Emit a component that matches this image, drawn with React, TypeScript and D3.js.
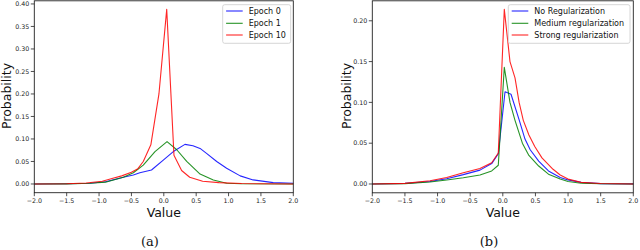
import * as d3 from "d3";
import React from "react";

// panel (a): weight distribution per epoch
const epochNames = ["Epoch 0", "Epoch 1", "Epoch 10"];
const epoch0X = [-2.0, -1.5, -1.14, -0.9, -0.625, -0.47, -0.37, -0.19, -0.008, 0.147, 0.327, 0.45, 0.56, 0.66, 0.817, 0.97, 1.18, 1.38, 1.69, 2.0];
const epoch0Y = [0.0, 0.0005, 0.0015, 0.005, 0.015, 0.02, 0.025, 0.031, 0.053, 0.072, 0.088, 0.085, 0.079, 0.068, 0.05, 0.035, 0.018, 0.009, 0.003, 0.0015];
const epoch1X = [-2.0, -1.5, -1.14, -0.9, -0.625, -0.47, -0.317, -0.136, 0.05, 0.2, 0.354, 0.56, 0.765, 0.97, 1.2, 2.0];
const epoch1Y = [0.0, 0.0003, 0.0015, 0.004, 0.015, 0.025, 0.042, 0.072, 0.094, 0.076, 0.05, 0.022, 0.009, 0.0015, 0.0005, 0.0];
const epoch10X = [-2.0, -1.5, -1.2, -0.95, -0.8, -0.65, -0.5, -0.4, -0.317, -0.2, -0.075, 0.045, 0.157, 0.275, 0.4, 0.6, 0.85, 1.2, 1.5, 2.0];
const epoch10Y = [0.0, 0.0005, 0.002, 0.006, 0.012, 0.018, 0.026, 0.034, 0.05, 0.087, 0.2, 0.388, 0.064, 0.03, 0.015, 0.006, 0.003, 0.001, 0.0005, 0.0];

// panel (b): regularization strength
const regNames = ["No Regularization", "Medium regularization", "Strong regularization"];
const noRegX = [-2.0, -1.5, -1.116, -0.86, -0.605, -0.35, -0.17, -0.069, 0.034, 0.126, 0.253, 0.34, 0.42, 0.55, 0.7, 0.88, 1.0, 1.2, 1.5, 2.0];
const noRegY = [0.0, 0.0008, 0.003, 0.0065, 0.0115, 0.017, 0.025, 0.037, 0.113, 0.11, 0.078, 0.055, 0.042, 0.028, 0.016, 0.008, 0.005, 0.002, 0.0005, 0.0001];
const medRegX = [-2.0, -1.5, -1.116, -0.86, -0.605, -0.35, -0.17, -0.069, 0.023, 0.11, 0.187, 0.3, 0.4, 0.55, 0.7, 0.88, 1.0, 1.2, 1.5, 2.0];
const medRegY = [0.0, 0.0005, 0.0025, 0.0049, 0.0077, 0.011, 0.016, 0.023, 0.143, 0.1, 0.078, 0.05, 0.035, 0.022, 0.012, 0.006, 0.003, 0.001, 0.0003, 0.0];
const strongRegX = [-2.0, -1.5, -1.116, -0.86, -0.605, -0.35, -0.17, -0.069, 0.023, 0.11, 0.187, 0.25, 0.314, 0.4, 0.49, 0.6, 0.77, 0.88, 1.0, 1.2, 1.5, 2.0];
const strongRegY = [0.0, 0.0008, 0.004, 0.008, 0.0138, 0.019, 0.026, 0.038, 0.214, 0.15, 0.13, 0.1, 0.078, 0.06, 0.046, 0.032, 0.018, 0.011, 0.006, 0.002, 0.0006, 0.0];

const xTicks = [-2.0, -1.5, -1.0, -0.5, 0.0, 0.5, 1.0, 1.5, 2.0];
const yTicksA = [0.0, 0.05, 0.1, 0.15, 0.2, 0.25, 0.3, 0.35, 0.4];
const yTicksB = [0.0, 0.05, 0.1, 0.15, 0.2];

const colors = ["#0000ff", "#008000", "#ff0000"];
const font = "DejaVu Sans, sans-serif";

type Panel = {
  left: number; right: number; top: number; bottom: number;
  yDomain: [number, number];
  yTicks: number[];
  series: { x: number[]; y: number[] }[];
  names: string[];
  legend: { x0: number; x1: number };
  yLabelX: number;
  caption: string;
  captionX: number;
};

const panels: Panel[] = [
  {
    left: 34.3, right: 293.3, top: 0.8, bottom: 192.7,
    yDomain: [-0.0194, 0.407],
    yTicks: yTicksA,
    series: [{ x: epoch0X, y: epoch0Y }, { x: epoch1X, y: epoch1Y }, { x: epoch10X, y: epoch10Y }],
    names: epochNames,
    legend: { x0: 222.7, x1: 290.7 },
    yLabelX: 11,
    caption: "(a)",
    captionX: 150,
  },
  {
    left: 372.3, right: 633.3, top: 0.8, bottom: 192.8,
    yDomain: [-0.0108, 0.2245],
    yTicks: yTicksB,
    series: [{ x: noRegX, y: noRegY }, { x: medRegX, y: medRegY }, { x: strongRegX, y: strongRegY }],
    names: regNames,
    legend: { x0: 508.3, x1: 630 },
    yLabelX: 351,
    caption: "(b)",
    captionX: 489,
  },
];

const fmtX = d3.format(".1f");
const fmtY = d3.format(".2f");

const PanelView = ({ p }: { p: Panel }) => {
  const x = d3.scaleLinear().domain([-2, 2]).range([p.left, p.right]);
  const y = d3.scaleLinear().domain(p.yDomain).range([p.bottom, p.top]);
  const line = d3.line<[number, number]>().x((d) => x(d[0])).y((d) => y(d[1]));
  const cx = (p.left + p.right) / 2;
  const rows = [11, 23.3, 35];
  return (
    <g>
      <defs>
        <clipPath id={"clip" + p.caption}>
          <rect x={p.left} y={p.top} width={p.right - p.left} height={p.bottom - p.top} />
        </clipPath>
      </defs>
      <g clipPath={`url(#clip${p.caption})`}>
        {p.series.map((s, i) => (
          <path key={i} d={line(s.x.map((v, j) => [v, s.y[j]] as [number, number])) || ""}
            fill="none" stroke={colors[i]} strokeWidth={1.1} strokeOpacity={0.85} strokeLinejoin="round" />
        ))}
      </g>
      <rect x={p.left} y={p.top} width={p.right - p.left} height={p.bottom - p.top}
        fill="none" stroke="#222" strokeWidth={0.9} />
      {xTicks.map((t) => (
        <g key={t}>
          <line x1={x(t)} x2={x(t)} y1={p.bottom} y2={p.bottom + 3.5} stroke="#222" strokeWidth={0.8} />
          <text x={x(t)} y={p.bottom + 9.8} textAnchor="middle" fontSize={6.3} fontFamily={font} fill="#222">{fmtX(t)}</text>
        </g>
      ))}
      {p.yTicks.map((t) => (
        <g key={t}>
          <line x1={p.left - 3.5} x2={p.left} y1={y(t)} y2={y(t)} stroke="#222" strokeWidth={0.8} />
          <text x={p.left - 5} y={y(t) + 2.2} textAnchor="end" fontSize={6.3} fontFamily={font} fill="#222">{fmtY(t)}</text>
        </g>
      ))}
      <text x={cx} y={217} textAnchor="middle" fontSize={12.5} fontFamily={font} fill="#111">Value</text>
      <text transform={`translate(${p.yLabelX},96) rotate(-90)`} textAnchor="middle" fontSize={12.5} fontFamily={font} fill="#111">Probability</text>
      <text x={p.captionX} y={246} textAnchor="middle" fontSize={13} fontFamily="DejaVu Serif, serif" fill="#111">{p.caption}</text>
      <rect x={p.legend.x0} y={4.7} width={p.legend.x1 - p.legend.x0} height={38.6} rx={2} fill="#fff" fillOpacity={0.8} stroke="#ccc" strokeWidth={0.8} />
      {p.names.map((n, i) => (
        <g key={n}>
          <line x1={p.legend.x0 + 3.4} x2={p.legend.x0 + 20} y1={rows[i]} y2={rows[i]} stroke={colors[i]} strokeWidth={1.1} strokeOpacity={0.85} />
          <text x={p.legend.x0 + 26} y={rows[i] + 2.9} fontSize={8} fontFamily={font} fill="#111">{n}</text>
        </g>
      ))}
    </g>
  );
};

export default function App() {
  return (
    <svg width={640} height={250} style={{ position: "absolute", left: 0, top: 0, background: "#fff" }}>
      {panels.map((p) => <PanelView key={p.caption} p={p} />)}
    </svg>
  );
}
